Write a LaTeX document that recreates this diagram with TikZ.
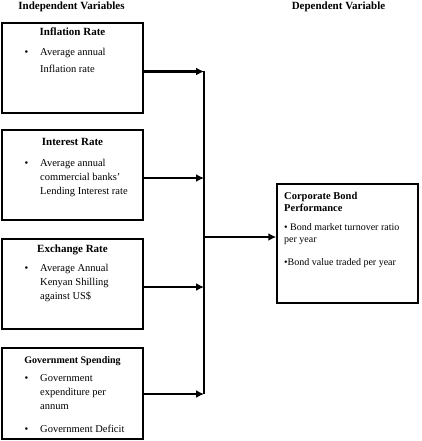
\documentclass[tikz,border=0pt]{standalone}
\usepackage{fontspec}
\setmainfont{Liberation Serif}
\usepackage{tikz}
\usetikzlibrary{arrows.meta}
\newcommand{\bul}{\makebox[15.7pt][l]{\textbullet}}
\tikzset{varbox/.style={rectangle, draw=black, line width=1.5pt, minimum width=141pt, minimum height=90pt, inner sep=0pt}, heading/.style={font=\fontsize{11}{13}\selectfont\bfseries, anchor=base, inner sep=0pt}, boxtitle/.style={font=\fontsize{11}{13}\selectfont\bfseries, anchor=base, inner sep=0pt}, boxtext/.style={font=\fontsize{10.5}{14}\selectfont, anchor=base west, inner sep=0pt}, link/.style={-{Latex[length=8pt,width=8pt]}, line width=2.4pt}, trunk/.style={line width=2.4pt}}

\begin{document}
\begin{tikzpicture}[x=1pt, y=-1pt]
\useasboundingbox (0,0) rectangle (421,441);
\node[heading] (indep) at (71.5,10) {Independent Variables};
\node[heading] (dep) at (338.5,10) {Dependent Variable};
% independent variable boxes
\node[varbox] (infl) at (72.5,68) {};
\node[varbox] (intr) at (72.5,175) {};
\node[varbox] (exch) at (72.5,284) {};
\node[varbox, minimum height=91pt] (govt) at (72.5,393.5) {};
\node[boxtitle] (inflT) at (72.5,36) {Inflation Rate};
\node[boxtext] (inflB) at (24.3,56) {\begin{tabular}[t]{@{}l@{}l@{}}\bul&Average annual\\[3pt] &Inflation rate\end{tabular}};
\node[boxtitle] (intrT) at (72.5,145) {Interest Rate};
\node[boxtext] (intrB) at (24.3,166) {\begin{tabular}[t]{@{}l@{}l@{}}\bul&Average annual\\ &commercial banks'\\ &Lending Interest rate\end{tabular}};
\node[boxtitle] (exchT) at (72.5,252) {Exchange Rate};
\node[boxtext] (exchB) at (24.3,271) {\begin{tabular}[t]{@{}l@{}l@{}}\bul&Average Annual\\ &Kenyan Shilling\\ &against US\$\end{tabular}};
\node[boxtitle, font=\fontsize{10}{12}\selectfont\bfseries] (govtT) at (72.5,363) {Government Spending};
\node[boxtext] (govtB) at (24.3,381) {\begin{tabular}[t]{@{}l@{}l@{}}\bul&Government\\ &expenditure per\\ &annum\\[9pt] \bul&Government Deficit\end{tabular}};
% dependent variable box
\node[varbox, minimum height=119pt] (bond) at (347.5,243.5) {};
\node[boxtext, font=\fontsize{10}{12}\selectfont] (bondB) at (284,199) {\begin{tabular}[t]{@{}l@{}}\fontsize{10.5}{12}\selectfont\bfseries Corporate Bond\\ \fontsize{10.5}{12}\selectfont\bfseries Performance\\[7pt] \textbullet{} Bond market turnover ratio\\ per year\\[11pt] \textbullet Bond value traded per year\end{tabular}};
% connectors
\coordinate (j1) at (204,71.5);
\coordinate (j2) at (204,178);
\coordinate (j3) at (204,287);
\coordinate (j4) at (204,394);
\coordinate (jout) at (204,237);
\draw[trunk] (j1) -- (j4);
\draw[link] (infl.east |- j1) -- (j1);
\draw[link] (intr.east |- j2) -- (j2);
\draw[link] (exch.east |- j3) -- (j3);
\draw[link] (govt.east |- j4) -- (j4);
\draw[link] (jout) -- (jout -| bond.west);
\end{tikzpicture}
\end{document}
